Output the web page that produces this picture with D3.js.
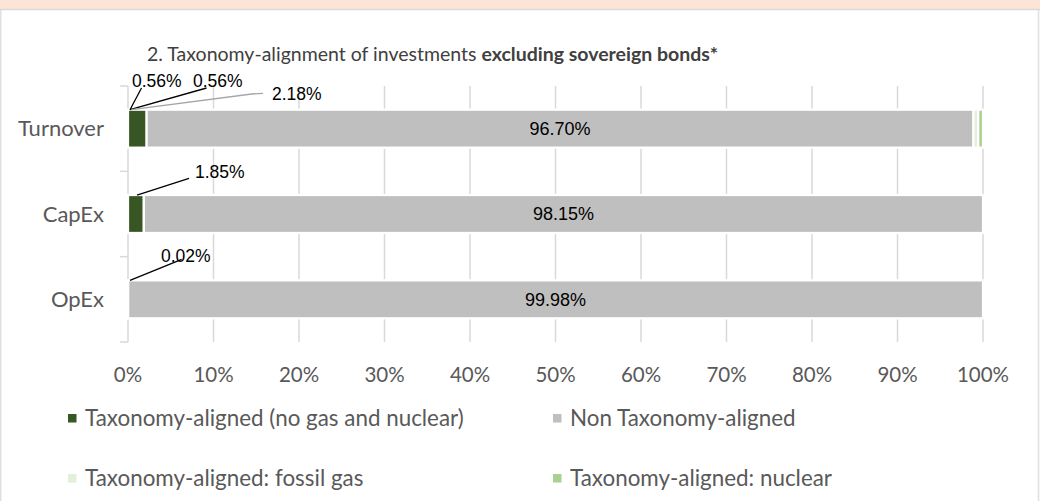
<!DOCTYPE html>
<html><head><meta charset="utf-8">
<script src="https://cdn.jsdelivr.net/npm/d3@7"></script>
<style>
html,body{margin:0;padding:0;background:#fff;}
svg{display:block;}
</style>
</head><body>
<svg id="chart" width="1040" height="501"></svg>
<script>
// ---- data ----
const categories = ["Turnover", "CapEx", "OpEx"];
const alignedNoGasNuclear = [2.18, 1.85, 0.02];
const nonAligned = [96.70, 98.15, 99.98];
const fossilGas = [0.56, 0, 0];
const nuclear = [0.56, 0, 0];
const tickValues = [0, 10, 20, 30, 40, 50, 60, 70, 80, 90, 100];
const tickLabels = ["0%", "10%", "20%", "30%", "40%", "50%", "60%", "70%", "80%", "90%", "100%"];
const seriesKeys = ["aligned", "non", "gas", "nuc"];
const seriesNames = ["Taxonomy-aligned (no gas and nuclear)", "Non Taxonomy-aligned", "Taxonomy-aligned: fossil gas", "Taxonomy-aligned: nuclear"];
const titleNormal = "2. Taxonomy-alignment of investments ";
const titleBold = "excluding sovereign bonds*";

// ---- styles / layout ----
const colors = {aligned: "#375623", non: "#bfbfbf", gas: "#e2efda", nuc: "#a9d08e"};
const svg = d3.select("#chart");
const W = 1040, H = 501;
const x = d3.scaleLinear().domain([0, 100]).range([128, 983]);
const y = d3.scaleBand().domain(categories).range([86, 342]).paddingInner(0.555).paddingOuter(0.2775);

// background frame
svg.append("rect").attr("x", 0).attr("y", 0).attr("width", W).attr("height", H).attr("fill", "#fff");
svg.append("rect").attr("x", 0).attr("y", 0).attr("width", W).attr("height", 9).attr("fill", "#fce4d6");
svg.append("line").attr("x1", 0).attr("x2", W).attr("y1", 9.5).attr("y2", 9.5).attr("stroke", "#d9d9d9").attr("stroke-width", 1.5);
svg.append("line").attr("x1", 0.75).attr("x2", 0.75).attr("y1", 10).attr("y2", H).attr("stroke", "#e0e0e0").attr("stroke-width", 1.5);
svg.append("line").attr("x1", 1038.5).attr("x2", 1038.5).attr("y1", 10).attr("y2", H).attr("stroke", "#e0e0e0").attr("stroke-width", 1.5);

// title
const title = svg.append("text").attr("x", 147).attr("y", 61)
  .attr("font-family", "Lato, 'Open Sans', sans-serif").attr("font-size", 19.5).attr("fill", "#404040");
title.append("tspan").text(titleNormal);
title.append("tspan").attr("font-weight", "bold").text(titleBold);

// gridlines
const [y0, y1] = y.range();
svg.append("g").selectAll("line").data(tickValues.slice(1)).join("line")
  .attr("x1", d => x(d)).attr("x2", d => x(d)).attr("y1", y0).attr("y2", y1)
  .attr("stroke", "#d9d9d9").attr("stroke-width", 1.5);

// category axis (left) with separator ticks
svg.append("line").attr("x1", x(0)).attr("x2", x(0)).attr("y1", y0).attr("y2", y1)
  .attr("stroke", "#d9d9d9").attr("stroke-width", 1.5);
const sepYs = categories.map(c => y(c) - y.step() * y.paddingInner() / 2).concat([y1]);
sepYs[0] = y0;
svg.append("g").selectAll("line").data(sepYs).join("line")
  .attr("x1", x(0) - 8).attr("x2", x(0)).attr("y1", d => d).attr("y2", d => d)
  .attr("stroke", "#d9d9d9").attr("stroke-width", 1.5);
svg.append("g").selectAll("text").data(categories).join("text")
  .attr("x", 104).attr("y", d => y(d) + y.bandwidth() / 2).attr("dy", "0.35em")
  .attr("text-anchor", "end").attr("font-family", "Lato, sans-serif").attr("font-size", 22)
  .attr("fill", "#595959").text(d => d);

// x tick labels
svg.append("g").selectAll("text").data(tickValues).join("text")
  .attr("x", d => x(d)).attr("y", 382).attr("text-anchor", "middle")
  .attr("font-family", "Lato, sans-serif").attr("font-size", 20.5).attr("fill", "#595959")
  .text((d, i) => tickLabels[i]);

// stacked bars
const rows = categories.map((c, i) => ({cat: c, aligned: alignedNoGasNuclear[i], non: nonAligned[i], gas: fossilGas[i], nuc: nuclear[i]}));
const stacked = d3.stack().keys(seriesKeys)(rows);
const gBars = svg.append("g");
stacked.forEach(s => {
  gBars.append("g").attr("fill", colors[s.key]).selectAll("rect").data(s.filter(d => d[1] - d[0] > 0)).join("rect")
    .attr("x", d => x(d[0])).attr("width", d => x(d[1]) - x(d[0]))
    .attr("y", d => y(d.data.cat)).attr("height", y.bandwidth())
    .attr("stroke", "#fff").attr("stroke-width", 2.25);
});

// in-bar labels for the large segment
const nonSeries = stacked.find(s => s.key === "non");
svg.append("g").selectAll("text").data(nonSeries).join("text")
  .attr("x", d => x((d[0] + d[1]) / 2)).attr("y", d => y(d.data.cat) + y.bandwidth() / 2).attr("dy", "0.36em")
  .attr("text-anchor", "middle").attr("font-family", "'Liberation Sans', Arial, sans-serif").attr("font-size", 18)
  .attr("fill", "#000").text(d => d.data.non.toFixed(2) + "%");

// outside labels with leader lines (label placement)
const labelLayout = [
  {cat: "Turnover", key: "gas", lx: 132, ly: 87, from: [[141.5, 88]], anchorDx: 2, stroke: "#000"},
  {cat: "Turnover", key: "nuc", lx: 193, ly: 87, from: [[206.5, 88]], anchorDx: 2, stroke: "#000"},
  {cat: "Turnover", key: "aligned", lx: 272, ly: 100, from: [[263, 93.3], [251.7, 94]], anchorDx: 3.5, stroke: "#a6a6a6"},
  {cat: "CapEx", key: "aligned", lx: 195, ly: 178, from: [[189, 178.3]], anchorDx: 9, stroke: "#000"},
  {cat: "OpEx", key: "aligned", lx: 161, ly: 262, from: [[181.7, 259.3]], anchorDx: 2, stroke: "#000"}
];
const gLab = svg.append("g");
labelLayout.forEach(L => {
  const idx = categories.indexOf(L.cat);
  const val = rows[idx][L.key];
  const pts = L.from.concat([[x(0) + L.anchorDx, y(L.cat)]]);
  gLab.append("path").attr("d", d3.line()(pts)).attr("fill", "none").attr("stroke", L.stroke).attr("stroke-width", 1.3);
  gLab.append("text").attr("x", L.lx).attr("y", L.ly)
    .attr("font-family", "'Liberation Sans', Arial, sans-serif").attr("font-size", 17.5).attr("fill", "#000")
    .text(val.toFixed(2) + "%");
});

// legend
const legendPos = [[68, 418], [553, 418], [68, 478], [553, 478]];
const gLeg = svg.append("g");
seriesKeys.forEach((k, i) => {
  const [lx, ly] = legendPos[i];
  gLeg.append("rect").attr("x", lx).attr("y", ly - 4).attr("width", 8.5).attr("height", 8.5).attr("fill", colors[k]);
  gLeg.append("text").attr("x", lx + 17).attr("y", ly).attr("dy", "0.35em")
    .attr("font-family", "Lato, sans-serif").attr("font-size", 22.4).attr("fill", "#595959").text(seriesNames[i]);
});
</script>
</body></html>
